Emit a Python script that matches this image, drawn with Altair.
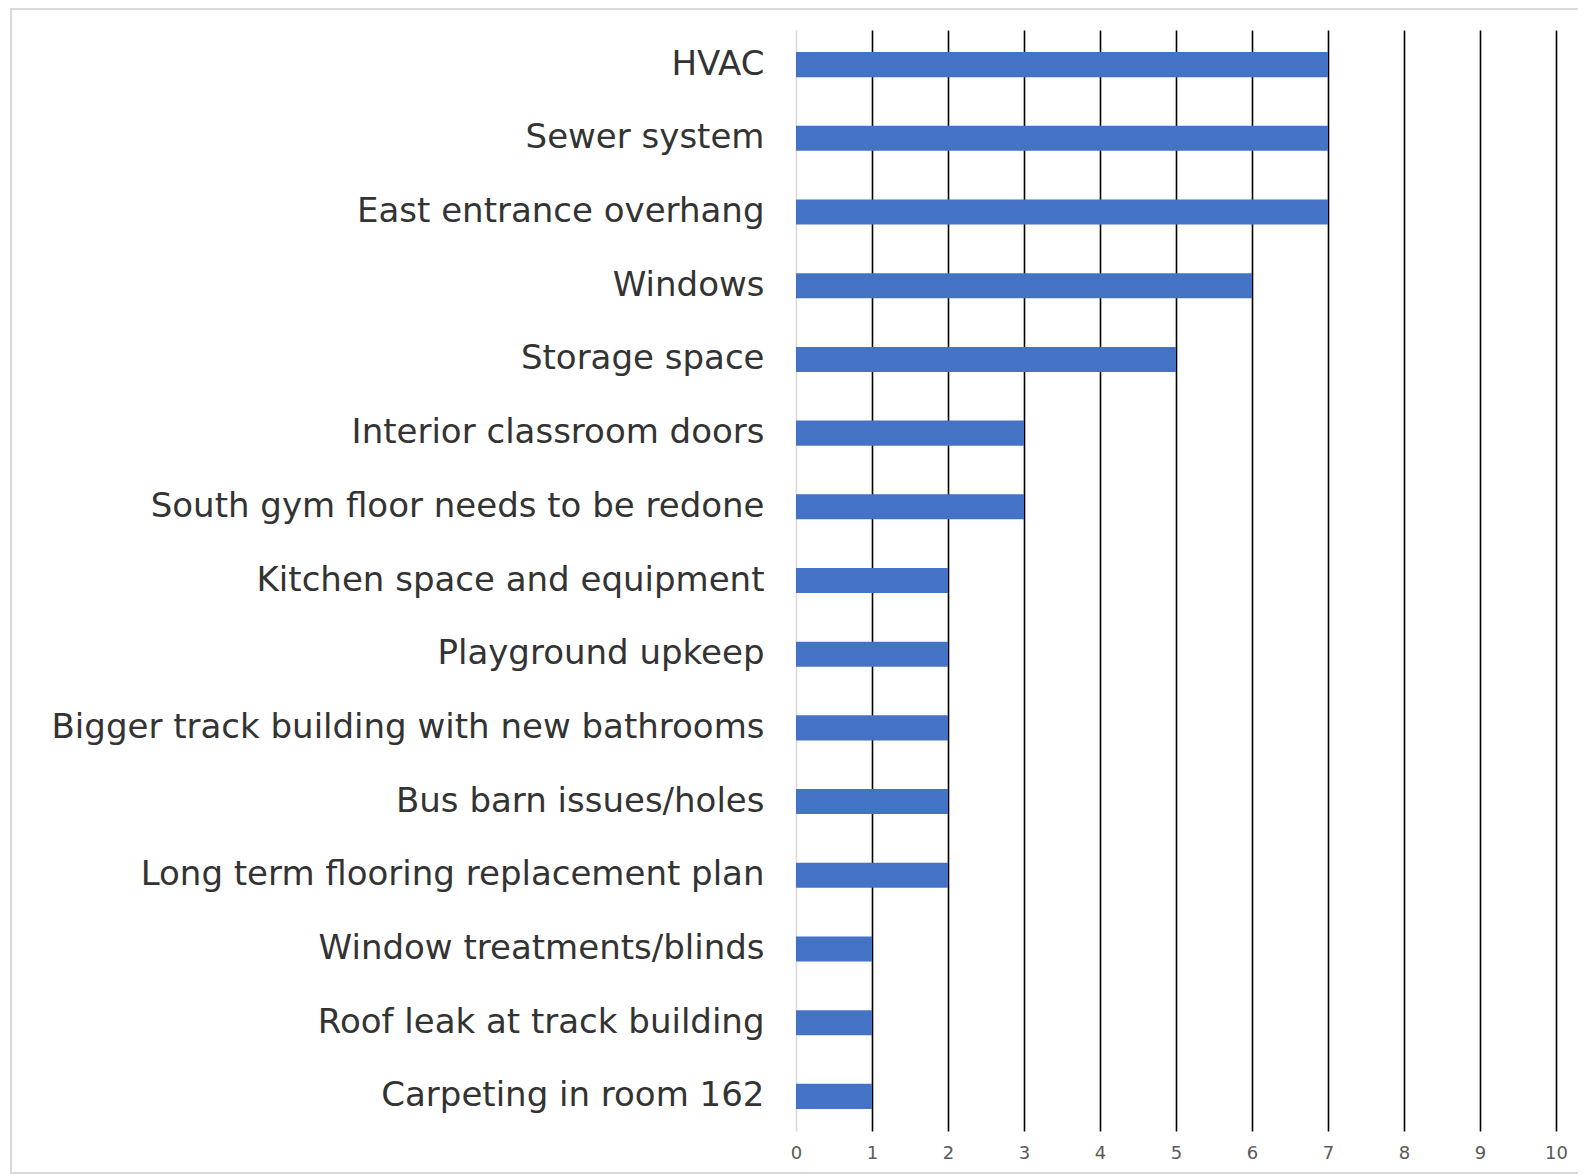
import altair as alt
import pandas as pd

categories = [
    "HVAC",
    "Sewer system",
    "East entrance overhang",
    "Windows",
    "Storage space",
    "Interior classroom doors",
    "South gym floor needs to be redone",
    "Kitchen space and equipment",
    "Playground upkeep",
    "Bigger track building with new bathrooms",
    "Bus barn issues/holes",
    "Long term flooring replacement plan",
    "Window treatments/blinds",
    "Roof leak at track building",
    "Carpeting in room 162",
]
counts = [7, 7, 7, 6, 5, 3, 3, 2, 2, 2, 2, 2, 1, 1, 1]
x_ticks = [0, 1, 2, 3, 4, 5, 6, 7, 8, 9, 10]

df = pd.DataFrame({"item": categories, "count": counts})

bars = alt.Chart(df).mark_bar(color="#4472C4").encode(
    x=alt.X(
        "count:Q",
        scale=alt.Scale(domain=[0, 10], nice=False),
        axis=alt.Axis(
            values=x_ticks,
            title=None,
            grid=True,
            gridColor={"condition": {"test": "datum.value === 0", "value": "#d9d9d9"}, "value": "#000000"},
            gridWidth=1.6,
            domain=False,
            ticks=False,
            labelFlush=False,
            labelFont="DejaVu Sans",
            labelFontSize=18,
            labelColor="#595959",
            labelPadding=13,
        ),
    ),
    y=alt.Y(
        "item:N",
        sort=categories,
        scale=alt.Scale(paddingInner=0.66, paddingOuter=0.3),
        axis=alt.Axis(
            title=None,
            domain=False,
            ticks=False,
            grid=False,
            labelFont="DejaVu Sans",
            labelFontSize=34,
            labelColor="#333333",
            labelPadding=32,
            labelLimit=900,
        ),
    ),
)

frame = alt.Chart(df).mark_rect(filled=False, stroke="#d9d9d9", strokeWidth=1.5).encode(
    x=alt.value(-785), x2=alt.value(795), y=alt.value(-21), y2=alt.value(1143)
)

chart = (
    alt.layer(frame, bars)
    .properties(
        width=760,
        height=1101,
        background="white",
        autosize=alt.AutoSizeParams(type="none"),
        padding={"left": 788, "top": 22, "right": 22, "bottom": 45},
    )
    .configure_view(strokeWidth=0, stroke="white", strokeOpacity=0)
)

chart.save("out.html", embed_options={"renderer": "svg", "actions": False})
